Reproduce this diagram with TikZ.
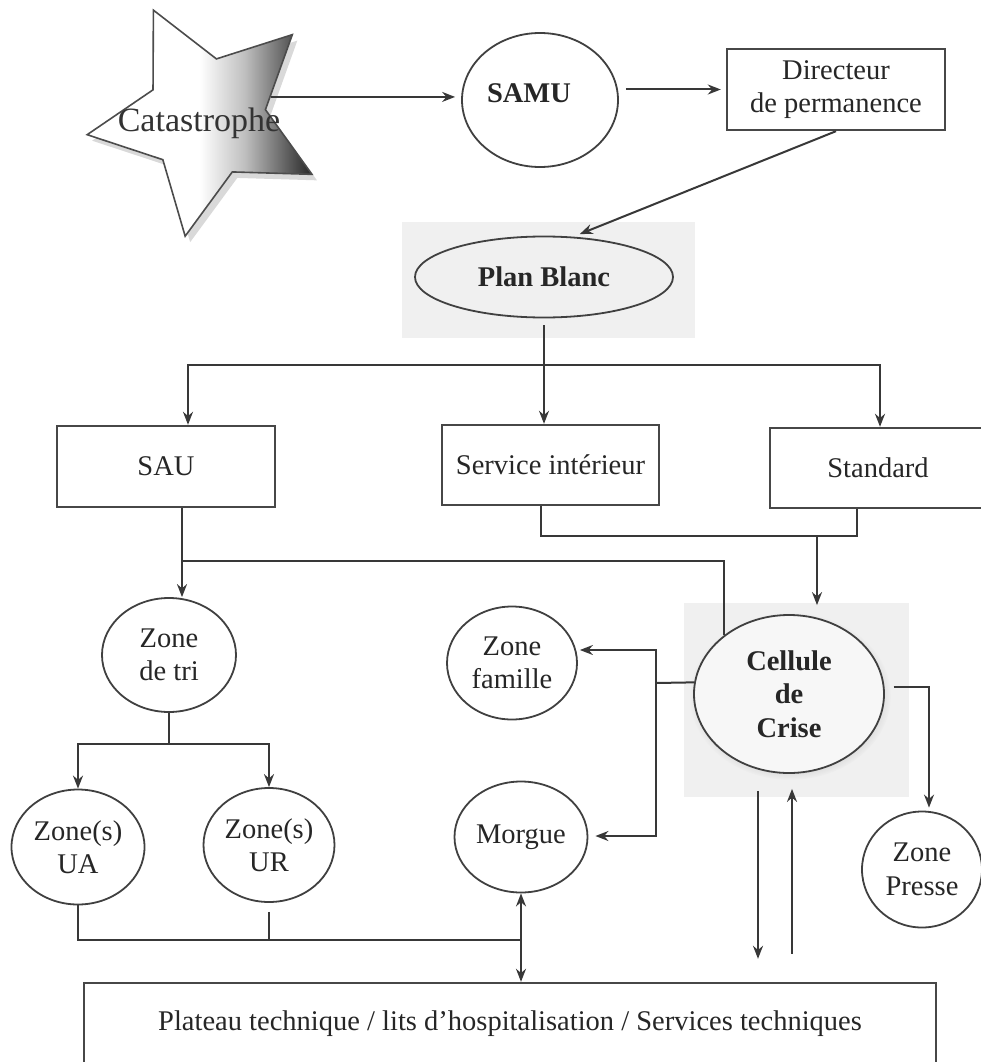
\documentclass[tikz,border=0pt]{standalone}
\usepackage{fontspec}
\setmainfont{Liberation Serif}
\usetikzlibrary{shapes.geometric, arrows.meta, shadows, calc}
\newcommand\fsz{\fontsize{28.5}{33.5}\selectfont}
\newcommand\fszb{\fontsize{28.5}{33.5}\selectfont\bfseries}
\pgfdeclarehorizontalshading{starshade}{100bp}{color(0bp)=(white); color(25bp)=(white); color(50bp)=(white); color(60bp)=(black!25); color(75bp)=(black!85); color(100bp)=(black!85)}
\begin{document}
\begin{tikzpicture}[x=1pt,y=-1pt,
  lc/.style={draw=black!78, line width=2pt},
  arr/.style={lc, -{Stealth[length=13pt,width=10pt]}},
  arrs/.style={lc, {Stealth[length=13pt,width=10pt]}-{Stealth[length=13pt,width=10pt]}},
  box/.style={rectangle, draw=black!72, line width=2.4pt, fill=white, inner sep=0pt, align=center, font=\fsz, text=black!85},
  ell/.style={ellipse, draw=black!75, line width=1.8pt, fill=white, inner sep=0pt, align=center, font=\fsz, text=black!85},
  bgbox/.style={rectangle, fill=black!6, draw=none, inner sep=0pt},
]
\useasboundingbox (0,0) rectangle (981,1062);
\clip (0,0) rectangle (981,1062);

% backgrounds
\node[bgbox, minimum width=293, minimum height=116] (pbbg) at (548.5,280) {};
\node[bgbox, minimum width=225, minimum height=194] (celbg) at (796.5,700) {};

% star
\node[star, star points=5, star point ratio=2, shape border rotate=26,
      minimum size=240, inner sep=0pt, draw=black!70, line width=1.6pt,
      shading=starshade,
      drop shadow={shadow xshift=5pt, shadow yshift=-6pt, opacity=0.3}] (star) at (206,118) {};
\node[font=\fontsize{34}{40}\selectfont, text=black!80] (cat) at (199,123) {Catastrophe};

% top row
\node[ell, minimum width=156, minimum height=134] (samu) at (540,100) {};
\node[font=\fszb, text=black!85] (samut) at (529,93) {SAMU};
\node[box, minimum width=218, minimum height=81] (dir) at (836,89.5) {Directeur\\de permanence};

% plan blanc
\node[ell, fill=black!6, font=\fszb, minimum width=258, minimum height=81] (pb) at (544,277) {Plan Blanc};

% second row
\node[box, minimum width=218, minimum height=81] (sau) at (166,466.5) {SAU};
\node[box, minimum width=217, minimum height=80] (serv) at (550.5,465) {Service intérieur};
\node[box, minimum width=216, minimum height=80] (std) at (878,468) {Standard};

% ellipses
\node[ell, minimum width=134, minimum height=114] (tri) at (169,655) {Zone\\de tri};
\node[ell, minimum width=130, minimum height=113] (fam) at (512,663) {Zone\\famille};
\node[ell, fill=black!3, font=\fszb, minimum width=190, minimum height=158,
      circular drop shadow={shadow xshift=1pt, shadow yshift=-2pt, shadow scale=1.06, opacity=0.25}] (cel) at (789,694) {Cellule\\de\\Crise};
\node[ell, minimum width=133, minimum height=115] (ua) at (78,847) {Zone(s)\\UA};
\node[ell, minimum width=131, minimum height=114] (ur) at (269,845) {Zone(s)\\UR};
\node[ell, minimum width=133, minimum height=111] (mor) at (521,837) {Morgue};
\node[ell, minimum width=120, minimum height=116] (pre) at (922,869.5) {Zone\\Presse};

% bottom box
\node[box, minimum width=852, minimum height=82] (plat) at (510,1024) {Plateau technique / lits d'hospitalisation / Services techniques};

% connectors top
\draw[arr, shorten >=6] (star.18) -- (star.18 -| samu.west);
\draw[arr, shorten >=5] ([xshift=7]samu.east |- dir.west) -- (dir.west);
\draw[arr, shorten >=7] (dir.south) -- (pb.54);
\draw[arr] ([yshift=-7]pb.south) -- (pb.south |- serv.north);
\coordinate (hb) at (544,365);
\draw[arr] (hb) -| ([xshift=22]sau.north);
\draw[arr] (hb) -| ([xshift=2]std.north);

% service / standard to cellule
\draw[lc] ([xshift=-10]serv.south) -- ++(0,30) -| ([xshift=-21]std.south);
\coordinate (jc) at (817,535);
\draw[arr, shorten >=9] (jc) -- (jc |- cel.north);

% SAU to zone de tri and cellule
\draw[arr] ([xshift=16]sau.south) -- ([xshift=16]sau.south |- tri.north);
\coordinate (sj) at (182,561);
\draw[lc] (cel.138) |- (sj);

% zone de tri to UA / UR
\draw[arr] (tri.south) -- ++(0,31) -| (ua.north);
\draw[arr] (tri.south) -- ++(0,31) -| (ur.north);

% bus to plateau
\coordinate (bus) at (521,940);
\draw[lc] (ua.south) |- (bus);
\draw[lc] ([yshift=-9]ur.south) -- (ur.south |- bus);
\draw[arrs] (mor.south) -- (mor.south |- plat.north);

% cellule left
\coordinate (cl) at (656,683);
\draw[lc] (cel.173) -- (cl);
\draw[arr, shorten >=2] (cl) |- ([yshift=13]fam.east);
\draw[arr, shorten >=7] (cl) |- ([yshift=1]mor.east);

% cellule right
\draw[arr, shorten <=9, shorten >=3] (cel.4) -| ([xshift=7]pre.north);

% cellule to plateau
\draw[arr, shorten <=17, shorten >=23] ([xshift=-31]cel.south) -- ([xshift=-31]cel.south |- plat.north);
\draw[arr, shorten <=28, shorten >=15] ([xshift=3]cel.south |- plat.north) -- ([xshift=3]cel.south);
\end{tikzpicture}
\end{document}
